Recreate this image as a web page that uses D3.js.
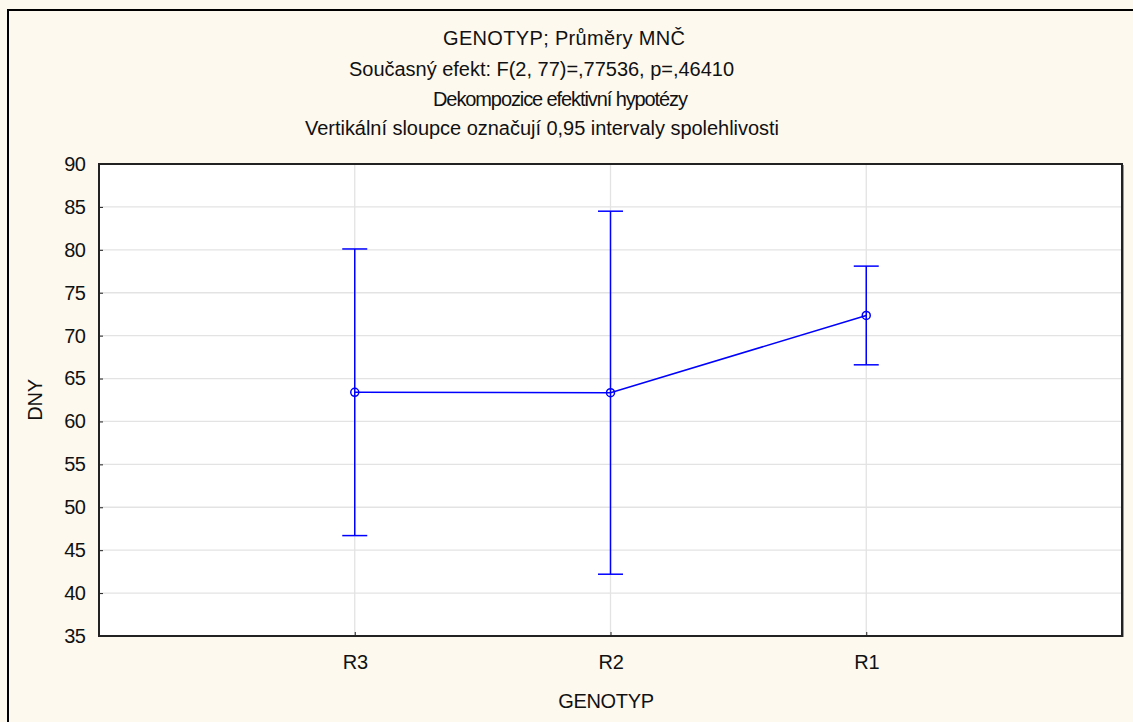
<!DOCTYPE html>
<html><head><meta charset="utf-8">
<script src="https://cdn.jsdelivr.net/npm/d3@7"></script>
<style>
html,body{margin:0;padding:0;background:#fdf9ef;}
text{font-family:"Liberation Sans",Arial,sans-serif;fill:#111;}
</style></head><body>
<svg id="chart" width="1133" height="722"></svg>
<script>
const categories = ["R3", "R2", "R1"];
const means = [63.4, 63.35, 72.35];
const lower = [46.7, 42.2, 66.6];
const upper = [80.1, 84.5, 78.1];
const yTicks = [35, 40, 45, 50, 55, 60, 65, 70, 75, 80, 85, 90];
const titleLines = [
  "GENOTYP; Průměry MNČ",
  "Současný efekt: F(2, 77)=,77536, p=,46410",
  "Dekompozice efektivní hypotézy",
  "Vertikální sloupce označují 0,95 intervaly spolehlivosti"
];
const xTitle = "GENOTYP";
const yTitle = "DNY";

// layout of title lines (start x, width, baseline y)
const titleStartX = [443, 349, 433, 305];
const titleWidth = [242, 385, 255, 474];
const titleY = [45, 76, 106, 135];

const svg = d3.select("#chart");
const W = 1133, H = 722;
const m = {left: 99, top: 164, right: 1122, bottom: 636};
const FS = 20, LS = -0.3;

svg.append("rect").attr("x", 0).attr("y", 0).attr("width", W).attr("height", H).attr("fill", "#fdf9ef");
svg.append("rect").attr("x", 8).attr("y", 10).attr("width", W + 20).attr("height", H + 20)
  .attr("fill", "none").attr("stroke", "#000").attr("stroke-width", 2);

const x = d3.scalePoint().domain(categories).range([m.left, m.right]).padding(1);
const y = d3.scaleLinear().domain([35, 90]).range([m.bottom, m.top]);

svg.append("rect").attr("x", m.left).attr("y", m.top).attr("width", m.right - m.left).attr("height", m.bottom - m.top).attr("fill", "#fff");

svg.append("g").selectAll("line").data(yTicks.slice(1, -1)).join("line")
  .attr("x1", m.left).attr("x2", m.right).attr("y1", d => y(d)).attr("y2", d => y(d))
  .attr("stroke", "#e3e3e3").attr("stroke-width", 1.3);
svg.append("g").selectAll("line").data(categories).join("line")
  .attr("x1", d => x(d)).attr("x2", d => x(d)).attr("y1", m.top).attr("y2", m.bottom)
  .attr("stroke", "#e3e3e3").attr("stroke-width", 1.3);

const yAxis = d3.axisLeft(y).tickValues(yTicks).tickSize(-4).tickPadding(14).tickSizeOuter(0);
const gy = svg.append("g").attr("transform", `translate(${m.left},0)`).call(yAxis);
gy.select(".domain").remove();
gy.selectAll("line").attr("stroke", "#222").attr("stroke-width", 1);
gy.selectAll("text").attr("font-size", FS).attr("fill", "#111").attr("font-family", "Liberation Sans, Arial, sans-serif").attr("letter-spacing", -0.8);

const xAxis = d3.axisBottom(x).tickSize(-4).tickPadding(19).tickSizeOuter(0);
const gx = svg.append("g").attr("transform", `translate(0,${m.bottom})`).call(xAxis);
gx.select(".domain").remove();
gx.selectAll("line").attr("stroke", "#222").attr("stroke-width", 1);
gx.selectAll("text").attr("font-size", FS).attr("fill", "#111").attr("font-family", "Liberation Sans, Arial, sans-serif").attr("letter-spacing", LS);

svg.append("line").attr("x1", m.right + 1.5).attr("x2", m.right + 1.5).attr("y1", m.top + 1).attr("y2", m.bottom + 1).attr("stroke", "#999").attr("stroke-width", 1);
svg.append("rect").attr("x", m.left).attr("y", m.top).attr("width", m.right - m.left).attr("height", m.bottom - m.top)
  .attr("fill", "none").attr("stroke", "#222").attr("stroke-width", 2);

const blue = "#0000ff";
const g = svg.append("g");
const cap = 12.5;
g.selectAll("line.err").data(categories).join("line").attr("class", "err")
  .attr("x1", d => x(d)).attr("x2", d => x(d))
  .attr("y1", (d, i) => y(upper[i])).attr("y2", (d, i) => y(lower[i]))
  .attr("stroke", blue).attr("stroke-width", 1.5);
g.selectAll("line.capu").data(categories).join("line").attr("class", "capu")
  .attr("x1", d => x(d) - cap).attr("x2", d => x(d) + cap)
  .attr("y1", (d, i) => y(upper[i])).attr("y2", (d, i) => y(upper[i]))
  .attr("stroke", blue).attr("stroke-width", 1.5);
g.selectAll("line.capl").data(categories).join("line").attr("class", "capl")
  .attr("x1", d => x(d) - cap).attr("x2", d => x(d) + cap)
  .attr("y1", (d, i) => y(lower[i])).attr("y2", (d, i) => y(lower[i]))
  .attr("stroke", blue).attr("stroke-width", 1.5);

const line = d3.line().x(d => x(d[0])).y(d => y(d[1]));
g.append("path").datum(categories.map((c, i) => [c, means[i]])).attr("d", line)
  .attr("fill", "none").attr("stroke", blue).attr("stroke-width", 1.5);
g.selectAll("circle").data(categories).join("circle")
  .attr("cx", d => x(d)).attr("cy", (d, i) => y(means[i])).attr("r", 4)
  .attr("fill", "none").attr("stroke", blue).attr("stroke-width", 1.5);

svg.append("g").selectAll("text").data(titleLines).join("text")
  .attr("x", (d, i) => titleStartX[i]).attr("y", (d, i) => titleY[i]).attr("text-anchor", "start")
  .attr("font-size", FS).attr("textLength", (d, i) => titleWidth[i]).attr("lengthAdjust", "spacing")
  .text(d => d);

svg.append("text").attr("x", 606).attr("y", 708).attr("text-anchor", "middle")
  .attr("font-size", FS).attr("letter-spacing", LS).text(xTitle);
svg.append("text").attr("transform", "translate(42,400) rotate(-90)").attr("text-anchor", "middle")
  .attr("font-size", FS).attr("letter-spacing", LS).text(yTitle);
</script>
</body></html>
